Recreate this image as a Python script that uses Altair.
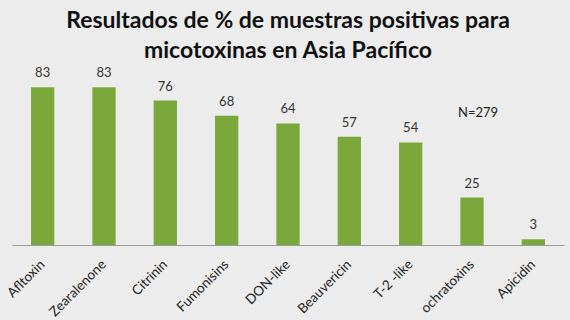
import altair as alt
import pandas as pd

categories = ["Afltoxin", "Zearalenone", "Citrinin", "Fumonisins", "DON-like",
              "Beauvericin", "T-2 -like", "ochratoxins", "Apicidin"]
values = [83, 83, 76, 68, 64, 57, 54, 25, 3]
title_lines = ["Resultados de % de muestras positivas para",
               "micotoxinas en Asia Pacífico"]
note = "N=279"

df = pd.DataFrame({"cat": categories, "val": values})

FONT = "Lato"

x = alt.X("cat:N", sort=categories,
          scale=alt.Scale(paddingInner=0.62, paddingOuter=0.31),
          axis=alt.Axis(title=None, labelAngle=-45, labelAlign="right",
                        labelBaseline="middle", labelFontSize=13.5, labelFont=FONT,
                        labelColor="#222222", labelPadding=17, ticks=False,
                        domainColor="#9a9a9a", domainWidth=1.2))
y = alt.Y("val:Q", scale=alt.Scale(domain=[0, 100]), axis=None)

bars = alt.Chart(df).mark_bar(color="#7aa83a").encode(x=x, y=y)
labels = alt.Chart(df).mark_text(fontSize=13, font=FONT, color="#333333",
                                 baseline="alphabetic", dy=-10).encode(
    x=alt.X("cat:N", sort=categories), y="val:Q", text="val:Q")
ntext = alt.Chart(pd.DataFrame({"t": [note]})).mark_text(
    fontSize=13, font=FONT, color="#222222", baseline="middle").encode(
    x=alt.value(466), y=alt.value(58), text="t:N")

chart = (bars + labels + ntext).properties(
    width=552, height=190,
    padding={"left": 12, "top": 55, "right": 6, "bottom": 75},
    autosize=alt.AutoSizeParams(type="none"),
    background="#ececec",
    title=alt.TitleParams(title_lines, fontSize=23, font=FONT, fontWeight="bold",
                          color="#111111", anchor="middle", lineHeight=30,
                          offset=-8),
).configure_view(stroke=None)

chart.save("out.html", embed_options={"renderer": "svg", "actions": False})
